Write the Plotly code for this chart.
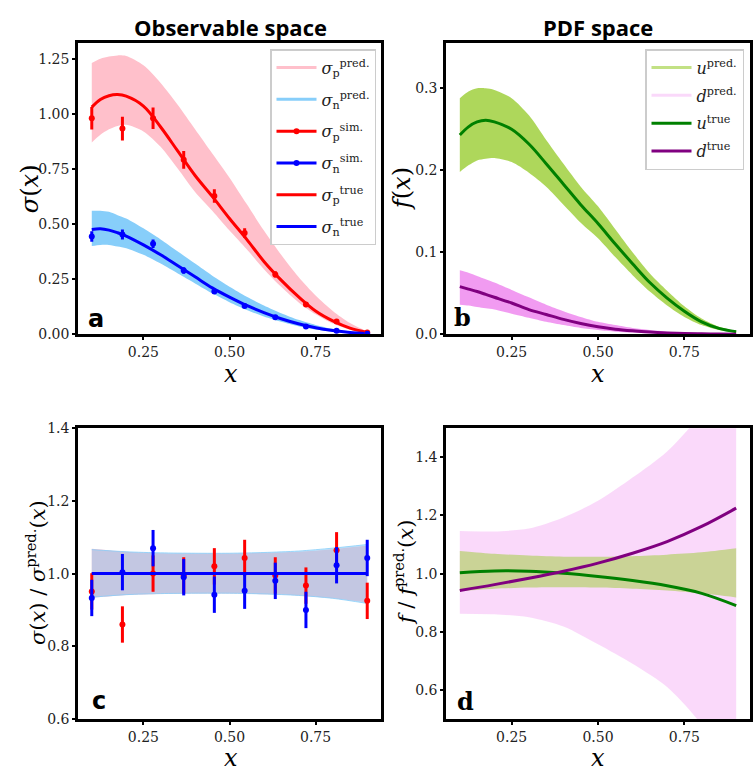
import plotly.graph_objects as go

W, H = 753, 776

# ---------------- data ----------------
# dense x grid for curves / bands
x_curve = [0.1, 0.125, 0.15, 0.175, 0.2, 0.25, 0.3, 0.35, 0.4, 0.45, 0.5,
           0.55, 0.6, 0.65, 0.7, 0.75, 0.8, 0.85, 0.9]
sig_p_true = [1.03, 1.065, 1.082, 1.087, 1.08, 1.035, 0.94, 0.83, 0.72, 0.625, 0.525,
              0.43, 0.33, 0.245, 0.17, 0.105, 0.06, 0.027, 0.008]
sig_n_true = [0.475, 0.478, 0.472, 0.46, 0.445, 0.405, 0.36, 0.31, 0.26, 0.21, 0.168,
              0.13, 0.098, 0.07, 0.047, 0.029, 0.016, 0.007, 0.002]
sig_p_hi = [1.23, 1.25, 1.26, 1.265, 1.262, 1.22, 1.14, 1.04, 0.93, 0.82, 0.71,
            0.59, 0.47, 0.36, 0.26, 0.175, 0.105, 0.05, 0.012]
sig_p_lo = [0.87, 0.905, 0.93, 0.945, 0.95, 0.92, 0.85, 0.75, 0.645, 0.56, 0.47,
            0.385, 0.295, 0.215, 0.145, 0.09, 0.048, 0.02, 0.004]
sig_n_hi = [0.56, 0.56, 0.555, 0.54, 0.525, 0.48, 0.43, 0.375, 0.32, 0.265, 0.215,
            0.17, 0.13, 0.095, 0.065, 0.042, 0.024, 0.011, 0.003]
sig_n_lo = [0.40, 0.405, 0.405, 0.398, 0.39, 0.36, 0.32, 0.275, 0.23, 0.185, 0.145,
            0.11, 0.08, 0.056, 0.036, 0.021, 0.011, 0.004, 0.001]

u_true = [0.243, 0.253, 0.259, 0.261, 0.259, 0.25, 0.232, 0.208, 0.183, 0.158, 0.135,
          0.11, 0.086, 0.063, 0.044, 0.028, 0.015, 0.007, 0.003]
u_hi = [0.288, 0.296, 0.30, 0.30, 0.298, 0.288, 0.267, 0.237, 0.208, 0.18, 0.156,
        0.128, 0.10, 0.074, 0.053, 0.034, 0.019, 0.009, 0.004]
u_lo = [0.198, 0.206, 0.212, 0.214, 0.215, 0.21, 0.197, 0.18, 0.158, 0.136, 0.117,
        0.094, 0.072, 0.052, 0.035, 0.021, 0.011, 0.005, 0.002]
d_true = [0.058, 0.055, 0.052, 0.0485, 0.045, 0.038, 0.03, 0.024, 0.018, 0.013, 0.009,
          0.006, 0.004, 0.0025, 0.0015, 0.0008, 0.0004, 0.0001, 0.0]
d_hi = [0.078, 0.075, 0.071, 0.067, 0.063, 0.054, 0.045, 0.036, 0.028, 0.021, 0.015,
        0.011, 0.0075, 0.005, 0.003, 0.0018, 0.001, 0.0004, 0.0001]
d_lo = [0.036, 0.035, 0.033, 0.0315, 0.03, 0.025, 0.02, 0.015, 0.011, 0.0075, 0.005,
        0.003, 0.002, 0.001, 0.0006, 0.0003, 0.0001, 0.0, 0.0]

# simulated data points
x_data = [0.1, 0.189, 0.278, 0.367, 0.456, 0.544, 0.633, 0.722, 0.811, 0.9]
sig_p_sim = [0.980, 0.933, 0.980, 0.791, 0.627, 0.459, 0.271, 0.135, 0.057, 0.0074]
sig_p_err = [0.051, 0.054, 0.049, 0.040, 0.031, 0.022, 0.014, 0.007, 0.003, 0.0004]
sig_n_sim = [0.443, 0.452, 0.410, 0.289, 0.193, 0.128, 0.077, 0.035, 0.015, 0.002]
sig_n_err = [0.024, 0.023, 0.019, 0.015, 0.010, 0.007, 0.004, 0.002, 0.001, 0.0001]

# ratios (panel c)
ratio_p_sim = [0.951, 0.86, 1.0, 0.995, 1.02, 1.043, 0.995, 0.967, 1.064, 0.925]
ratio_n_sim = [0.933, 1.004, 1.07, 0.99, 0.942, 0.953, 0.98, 0.90, 1.023, 1.043]
ratio_err = [0.05, 0.05, 0.05, 0.05, 0.05, 0.05, 0.05, 0.05, 0.05, 0.05]
x_ratio = [0.1, 0.2, 0.3, 0.4, 0.5, 0.6, 0.7, 0.8, 0.9]
ratio_true = [1.0, 1.0, 1.0, 1.0, 1.0, 1.0, 1.0, 1.0, 1.0]
rp_hi = [1.068, 1.06, 1.056, 1.055, 1.055, 1.057, 1.06, 1.067, 1.077]
rp_lo = [0.933, 0.941, 0.944, 0.945, 0.945, 0.943, 0.94, 0.932, 0.92]
rn_hi = [1.066, 1.06, 1.057, 1.056, 1.056, 1.058, 1.062, 1.07, 1.08]
rn_lo = [0.935, 0.942, 0.945, 0.946, 0.946, 0.944, 0.94, 0.932, 0.918]

# ratios (panel d)
ru_hi = [1.078, 1.068, 1.062, 1.058, 1.058, 1.06, 1.065, 1.073, 1.087]
ru_lo = [0.94, 0.948, 0.952, 0.953, 0.952, 0.948, 0.942, 0.932, 0.918]
rd_hi = [1.146, 1.145, 1.155, 1.193, 1.25, 1.33, 1.42, 1.55, 1.72]
rd_lo = [0.862, 0.86, 0.85, 0.818, 0.757, 0.69, 0.61, 0.48, 0.28]
ru_true = [1.003, 1.009, 1.008, 1.001, 0.99, 0.976, 0.958, 0.932, 0.89]
rd_true = [0.942, 0.962, 0.984, 1.008, 1.036, 1.07, 1.11, 1.162, 1.225]

x_ticks = [0.25, 0.50, 0.75]

# ---------------- styling ----------------
PINK = "#FFC0CB"
LBLUE = "#87CEFA"
RED = "#FF0000"
BLUE = "#0000FF"
YG = "rgba(154,205,50,0.8)"
VIO = "rgba(238,130,238,0.8)"
GREEN = "#008000"
PURPLE = "#800080"
TICKFONT = dict(family="DejaVu Serif", size=14, color="#222")
SERIF = "DejaVu Serif"

fig = go.Figure()


def band(xs, hi, lo, color, xa, ya, linecolor=None):
    fig.add_trace(go.Scatter(x=xs, y=lo, mode="lines",
                             line=dict(width=1 if linecolor else 0, color=linecolor or color,
                                       shape="spline", smoothing=0.8),
                             hoverinfo="skip", showlegend=False, xaxis=xa, yaxis=ya))
    fig.add_trace(go.Scatter(x=xs, y=hi, mode="lines", fill="tonexty", fillcolor=color,
                             line=dict(width=1 if linecolor else 0, color=linecolor or color,
                                       shape="spline", smoothing=0.8),
                             hoverinfo="skip", showlegend=False, xaxis=xa, yaxis=ya))


def line(xs, ys, color, xa, ya, width=3):
    fig.add_trace(go.Scatter(x=xs, y=ys, mode="lines",
                             line=dict(color=color, width=width, shape="spline"),
                             showlegend=False, xaxis=xa, yaxis=ya))


def pts(xs, ys, err, color, xa, ya):
    fig.add_trace(go.Scatter(x=xs, y=ys, mode="markers", marker=dict(color=color, size=6),
                             error_y=dict(type="data", array=err, color=color, thickness=3, width=0),
                             showlegend=False, xaxis=xa, yaxis=ya))


# panel a
band(x_curve, sig_p_hi, sig_p_lo, PINK, "x", "y")
band(x_curve, sig_n_hi, sig_n_lo, LBLUE, "x", "y")
line(x_curve, sig_p_true, RED, "x", "y")
line(x_curve, sig_n_true, BLUE, "x", "y")
pts(x_data, sig_p_sim, sig_p_err, RED, "x", "y")
pts(x_data, sig_n_sim, sig_n_err, BLUE, "x", "y")

# panel b
band(x_curve, u_hi, u_lo, YG, "x2", "y2")
band(x_curve, d_hi, d_lo, VIO, "x2", "y2")
line(x_curve, u_true, GREEN, "x2", "y2")
line(x_curve, d_true, PURPLE, "x2", "y2")

# panel c
band(x_ratio, rp_hi, rp_lo, PINK, "x3", "y3")
band(x_ratio, rn_hi, rn_lo, "rgba(135,206,250,0.5)", "x3", "y3", "rgba(135,206,250,0.8)")
line(x_ratio, ratio_true, RED, "x3", "y3")
pts(x_data, ratio_p_sim, ratio_err, RED, "x3", "y3")
pts(x_data, ratio_n_sim, ratio_err, BLUE, "x3", "y3")
line(x_ratio, ratio_true, BLUE, "x3", "y3")

# panel d
band(x_ratio, rd_hi, rd_lo, "rgba(238,130,238,0.3)", "x4", "y4")
band(x_ratio, ru_hi, ru_lo, "rgba(154,205,50,0.5)", "x4", "y4")
line(x_ratio, ru_true, GREEN, "x4", "y4")
line(x_ratio, rd_true, PURPLE, "x4", "y4")

# legend entries (panel a)
leg_a = [
    ("<i>σ</i><sub>p</sub><sup>pred.</sup>", PINK, "lines"),
    ("<i>σ</i><sub>n</sub><sup>pred.</sup>", LBLUE, "lines"),
    ("<i>σ</i><sub>p</sub><sup>sim.</sup>", RED, "lines+markers"),
    ("<i>σ</i><sub>n</sub><sup>sim.</sup>", BLUE, "lines+markers"),
    ("<i>σ</i><sub>p</sub><sup>true</sup>", RED, "lines"),
    ("<i>σ</i><sub>n</sub><sup>true</sup>", BLUE, "lines"),
]
for i, (name, col, mode) in enumerate(leg_a):
    fig.add_trace(go.Scatter(x=[None], y=[None], mode=mode, name=name,
                             line=dict(color=col, width=3), marker=dict(color=col, size=6),
                             legend="legend", legendgroup=f"a{i}", xaxis="x", yaxis="y"))
leg_b = [
    ("<i>u</i><sup>pred.</sup>", "rgba(154,205,50,0.6)"),
    ("<i>d</i><sup>pred.</sup>", "rgba(238,130,238,0.3)"),
    ("<i>u</i><sup>true</sup>", GREEN),
    ("<i>d</i><sup>true</sup>", PURPLE),
]
for i, (name, col) in enumerate(leg_b):
    fig.add_trace(go.Scatter(x=[None], y=[None], mode="lines", name=name,
                             line=dict(color=col, width=3),
                             legend="legend2", legendgroup=f"b{i}", xaxis="x2", yaxis="y2"))


def px_x(p):
    return p / W


def px_y(p):
    return 1 - p / H


dom_xa = [px_x(78), px_x(381)]
dom_xb = [px_x(446), px_x(750)]
dom_top = [px_y(333), px_y(36)]
dom_bot = [px_y(726), px_y(429)]

axis_common = dict(showline=True, mirror=True, linecolor="black", linewidth=2.5,
                   showgrid=False, zeroline=False, ticks="outside", ticklen=3,
                   tickwidth=1.5, tickcolor="black", tickfont=TICKFONT)


def xax(dom, anchor):
    return dict(domain=dom, anchor=anchor, range=[0.06, 0.94], tickvals=x_ticks,
                ticktext=[f"{v:.2f}" for v in x_ticks], **axis_common)


def yax(dom, anchor, rng, vals, fmt):
    return dict(domain=dom, anchor=anchor, range=rng, tickvals=vals,
                ticktext=[format(v, fmt) for v in vals], **axis_common)


legend_common = dict(bgcolor="rgba(255,255,255,0.85)", bordercolor="#cccccc", borderwidth=1.5,
                     font=dict(family=SERIF, size=16, color="#222"), itemwidth=40,
                     xanchor="right", yanchor="top")

annotations = []


def ann(text, x, y, size, family, angle=0, **kw):
    annotations.append(dict(text=text, x=px_x(x), y=px_y(y), xref="paper", yref="paper",
                            showarrow=False, xanchor="center", yanchor="middle",
                            textangle=angle, font=dict(family=family, size=size, color="black"), **kw))


ann("<b>Observable space</b>", 230, 19, 22, "Open Sans")
ann("<b>PDF space</b>", 598, 19, 22, "Open Sans")
for xc in (231, 598):
    ann("<i>x</i>", xc, 374, 24, SERIF)
    ann("<i>x</i>", xc, 766, 24, SERIF)
ann("<i>σ</i>(<i>x</i>)", 30, 185, 24, SERIF, -90)
ann("<i>f</i>(<i>x</i>)", 402, 185, 24, SERIF, -90)
ann("<i>σ</i>(<i>x</i>) / <i>σ</i><sup>pred.</sup>(<i>x</i>)", 36, 577, 21, SERIF, -90)
ann("<i>f</i> / <i>f</i><sup>pred.</sup>(<i>x</i>)", 404, 577, 21, SERIF, -90)
ann("<b>a</b>", 96, 318, 24, "DejaVu Sans")
ann("<b>b</b>", 462, 316, 24, "DejaVu Serif")
ann("<b>c</b>", 99, 708, 24, "DejaVu Sans")
ann("<b>d</b>", 465, 708, 24, "DejaVu Serif")

fig.update_layout(
    width=W, height=H, margin=dict(l=0, r=0, t=0, b=0),
    paper_bgcolor="white", plot_bgcolor="white",
    xaxis=xax(dom_xa, "y"),
    yaxis=yax(dom_top, "x", [0, 1.32], [0, 0.25, 0.5, 0.75, 1.0, 1.25], ".2f"),
    xaxis2=xax(dom_xb, "y2"),
    yaxis2=yax(dom_top, "x2", [0, 0.355], [0.0, 0.1, 0.2, 0.3], ".1f"),
    xaxis3=xax(dom_xa, "y3"),
    yaxis3=yax(dom_bot, "x3", [0.6, 1.4], [0.6, 0.8, 1.0, 1.2, 1.4], ".1f"),
    xaxis4=xax(dom_xb, "y4"),
    yaxis4=yax(dom_bot, "x4", [0.5, 1.5], [0.6, 0.8, 1.0, 1.2, 1.4], ".1f"),
    legend=dict(x=px_x(376), y=px_y(42), tracegroupgap=8, **legend_common),
    legend2=dict(x=px_x(744), y=px_y(42), tracegroupgap=4, **legend_common),
    annotations=annotations,
    showlegend=True,
)

fig.write_html("out.html")
